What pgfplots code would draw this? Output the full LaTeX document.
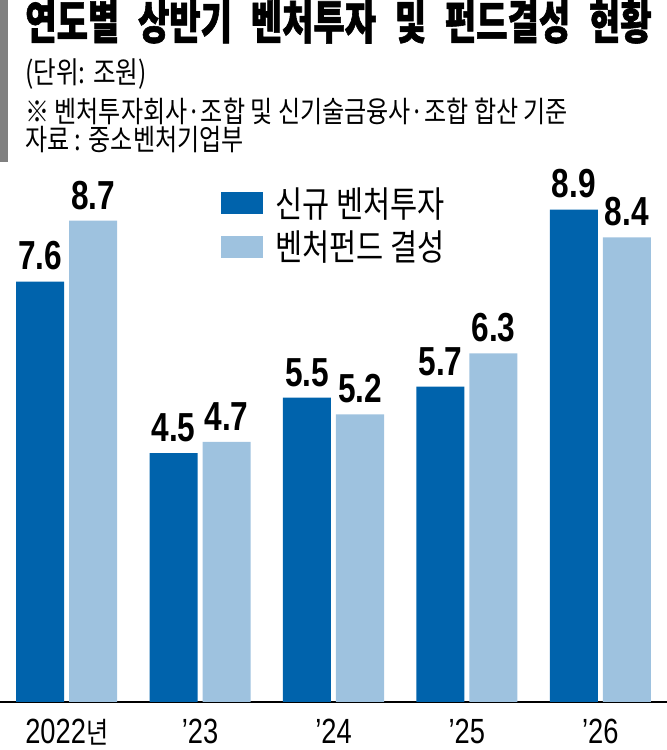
\documentclass[border=0pt]{standalone}
\usepackage{fontspec}
\usepackage{pgfplots}
\pgfplotsset{compat=1.18}
\setmainfont{Liberation Sans}
\newfontfamily\numfont[FakeStretch=0.78]{Liberation Sans}
\newfontfamily\cjk[FakeStretch=0.82]{Noto Sans CJK KR}
\newfontfamily\cjkt[FakeStretch=0.73,WordSpace=2.4,BoldFeatures={FakeBold=1.2}]{Noto Sans CJK KR}
\definecolor{dblue}{RGB}{0,99,172}
\definecolor{lblue}{RGB}{158,194,223}
\definecolor{gbar}{RGB}{128,128,128}
\begin{document}
\begin{tikzpicture}[x=0.75pt,y=0.75pt]
\path[use as bounding box] (0,0) rectangle (667,750);
\fill[gbar] (0,588) rectangle (8,750);
\node[anchor=west,inner sep=0pt] at (25,728.5) {\cjkt\bfseries\fontsize{35pt}{40pt}\selectfont 연도별 상반기 벤처투자 및 펀드결성 현황};
\node[anchor=west,inner sep=0pt] at (25,676) {\cjk\fontsize{22.5pt}{26pt}\selectfont (단위: 조원)};
\node[anchor=west,inner sep=0pt] at (25,638.5) {\cjk\fontsize{22pt}{26pt}\selectfont ※ 벤처투자회사·조합 및 신기술금융사·조합 합산 기준};
\node[anchor=west,inner sep=0pt] at (25,610) {\cjk\fontsize{22pt}{26pt}\selectfont 자료 : 중소벤처기업부};
\begin{axis}[
  at={(0pt,36pt)}, anchor=south west,
  width=500.25pt, height=526.5pt, scale only axis,
  xmin=-0.5, xmax=4.5, ymin=0, ymax=12.69,
  ybar=3.75pt, bar width=36pt,
  axis x line=bottom, x axis line style={-, line width=1pt, black},
  axis y line=none,
  xtick={0,1,2,3,4},
  xticklabels={{2022{\cjk\fontsize{22pt}{24pt}\selectfont 년}},{’23},{’24},{’25},{’26}},
  major tick length=0pt,
  xticklabel style={anchor=base, yshift=-30.75pt, font=\numfont\fontsize{26.25pt}{30pt}\selectfont},
  ytick=\empty,
  clip=false,
  nodes near coords={\numfont\bfseries\fontsize{30.4pt}{36pt}\selectfont\pgfmathprintnumber[fixed,fixed zerofill,precision=1,assume math mode=true]{\pgfplotspointmeta}},
  every node near coord/.append style={yshift=8.25pt, inner sep=0pt, text=black},
  legend style={at={(rel axis cs:0.3313,0.7336)}, anchor=north west, draw=none, fill=none, inner sep=0pt, row sep=9pt, column sep=9pt, nodes={inner sep=0pt}, font=\cjk\fontsize{27pt}{30pt}\selectfont},
  legend cell align=left,
  legend image code/.code={\fill[#1] (0pt,-8.25pt) rectangle (31.5pt,8.25pt);},
]
\addplot[fill=dblue, draw=none] coordinates {(0,7.6) (1,4.5) (2,5.5) (3,5.7) (4,8.9)};
\addplot[fill=lblue, draw=none] coordinates {(0,8.7) (1,4.7) (2,5.2) (3,6.3) (4,8.4)};
\legend{신규 벤처투자, 벤처펀드 결성}
\end{axis}
\end{tikzpicture}
\end{document}
